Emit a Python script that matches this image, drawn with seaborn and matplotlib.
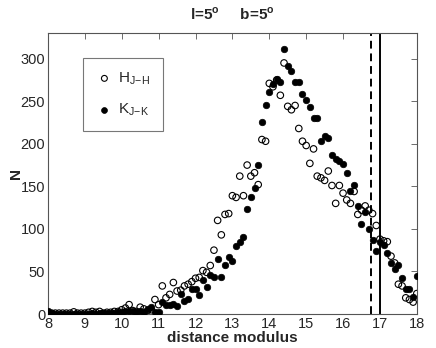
import numpy as np
import pandas as pd
import matplotlib
matplotlib.use("Agg")
import matplotlib.pyplot as plt
import seaborn as sns

# distance modulus grid (0.1 steps)
dist_mod = [round(8.0 + 0.1 * i, 1) for i in range(101)]

h_jh = [1, 1, 1, 1, 1, 1, 1, 2.5, 1, 1,
        1, 2, 3, 2, 3, 1, 2, 2, 3, 3,
        5, 7, 11, 4, 3, 8, 6, 4, 5, 17,
        11, 33, 19, 23, 37, 27, 28, 33, 35, 38,
        42, 43, 51, 49, 57, 75, 110, 93, 117, 118,
        139, 137, 162, 139, 175, 162, 166, 152, 205, 203,
        271, 267, 275, 257, 295, 244, 240, 245, 218, 203,
        198, 177, 194, 162, 160, 157, 168, 151, 130, 151,
        142, 134, 130, 144, 117, 122, 127, 122, 118, 104,
        88, 86, 85, 68, 60, 35, 33, 19, 17, 14,
        24]

k_jk = [3, 1, 0.5, 0.5, 0.5, 0.5, 0.5, 0.5, 0.5, 0.5,
        0.5, 0.5, 1, 0.5, 1, 1, 1, 1, 1.5, 2,
        2, 3.5, 3, 3, 2, 3, 2, 5.5, 7.8, 2.4,
        2.4, 14.5, 10.6, 11, 11.4, 9, 24, 15.7, 17.6, 29.4,
        29, 22.3, 40, 32, 45.9, 44, 65, 44, 57, 67.5,
        62, 80, 84.7, 90.6, 123.5, 137.6, 148, 174.5, 225.5, 246,
        261, 270, 276, 272.5, 311, 291, 286, 273, 272.6, 258,
        251, 243, 230, 230.6, 203.5, 208.6, 207, 186.7, 182, 180,
        176, 165.5, 144.7, 151.4, 127.4, 105.5, 119.6, 99.6, 86.7, 73.7,
        84.7, 81.6, 71.8, 59.6, 53.3, 57.6, 42.4, 29, 29.8, 20.4,
        44.7]

vline_dashed = 16.77
vline_solid = 17.0

x_ticks = list(range(8, 19))
y_ticks = list(range(0, 301, 50))

df_h = pd.DataFrame({"dm": dist_mod, "N": h_jh})
df_k = pd.DataFrame({"dm": dist_mod, "N": k_jk})

sns.set_style("white")
plt.rcParams["font.family"] = ["Liberation Sans", "DejaVu Sans"]
plt.rcParams["mathtext.fontset"] = "custom"
plt.rcParams["mathtext.rm"] = "Liberation Sans"
plt.rcParams["mathtext.bf"] = "Liberation Sans:bold"

fig = plt.figure(figsize=(4.36, 3.48), dpi=100)
ax = fig.add_axes([0.110, 0.0977, 0.846, 0.807])

sns.scatterplot(data=df_h, x="dm", y="N", ax=ax, marker="o", s=22,
                facecolor="none", edgecolor="black", linewidth=0.8,
                label=r"$\mathregular{H_{J\!-\!H}}$", zorder=3)
sns.scatterplot(data=df_k, x="dm", y="N", ax=ax, marker="o", s=22,
                color="black", edgecolor="black", linewidth=0.5,
                label=r"$\mathregular{K_{J\!-\!K}}$", zorder=3)

ax.axvline(vline_dashed, color="black", linestyle=(0, (4, 2.5)), linewidth=1.4)
ax.axvline(vline_solid, color="black", linestyle="-", linewidth=1.4)

ax.set_xlim(8, 18)
ax.set_ylim(0, 330)
ax.set_xticks(x_ticks)
ax.set_yticks(y_ticks)
ax.tick_params(direction="in", top=True, right=True, length=4, width=0.6,
               labelsize=10.5, color="#555555", pad=2)
for sp in ax.spines.values():
    sp.set_color("#555555")
    sp.set_linewidth(0.8)

ax.set_xlabel("distance modulus", fontsize=11, fontweight="bold", labelpad=0)
ax.set_ylabel("N", fontsize=11, fontweight="bold", labelpad=-2)
ax.set_title(r"l=5$^\mathregular{o}$     b=5$^\mathregular{o}$", fontsize=11,
             fontweight="bold", pad=10)

leg = ax.legend(loc="upper left", bbox_to_anchor=(0.095, 0.911), frameon=True,
                fancybox=False, edgecolor="#555555", fontsize=11,
                handletextpad=0.3, borderpad=0.8, labelspacing=1.0,
                borderaxespad=0, markerscale=0.9, handlelength=1.2)
leg.get_frame().set_linewidth(0.8)

fig.savefig("out.png", dpi=100)
